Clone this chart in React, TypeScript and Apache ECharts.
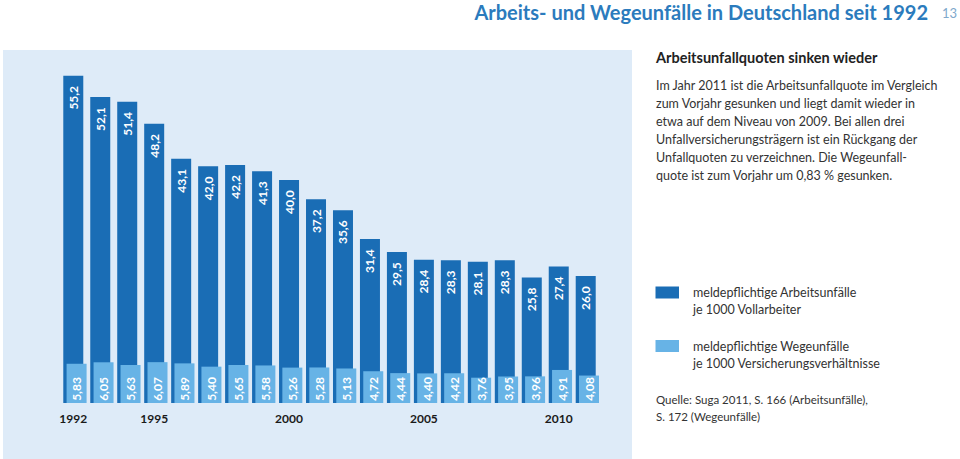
import React, { useEffect, useRef } from "react";
import * as echarts from "echarts";

const years = ["1992","1993","1994","1995","1996","1997","1998","1999","2000","2001","2002","2003","2004","2005","2006","2007","2008","2009","2010","2011"];
const arbeitsunfaelle = [55.2,52.1,51.4,48.2,43.1,42.0,42.2,41.3,40.0,37.2,35.6,31.4,29.5,28.4,28.3,28.1,28.3,25.8,27.4,26.0];
const wegeunfaelle = [5.83,6.05,5.63,6.07,5.89,5.40,5.65,5.58,5.26,5.28,5.13,4.72,4.44,4.40,4.42,3.76,3.95,3.96,4.91,4.08];
const shownYears = ["1992","1995","2000","2005","2010"];

const titleText = "Arbeits- und Wegeunfälle in Deutschland seit 1992";
const pageNumber = "13";
const subTitle = "Arbeitsunfallquoten sinken wieder";
const paragraph = [
  "Im Jahr 2011 ist die Arbeitsunfallquote im Vergleich",
  "zum Vorjahr gesunken und liegt damit wieder in",
  "etwa auf dem Niveau von 2009. Bei allen drei",
  "Unfallversicherungsträgern ist ein Rückgang der",
  "Unfallquoten zu verzeichnen. Die Wegeunfall-",
  "quote ist zum Vorjahr um 0,83 % gesunken.",
];
const legend1 = ["meldepflichtige Arbeitsunfälle", "je 1000 Vollarbeiter"];
const legend2 = ["meldepflichtige Wegeunfälle", "je 1000 Versicherungsverhältnisse"];
const sourceLines = ["Quelle: Suga 2011, S. 166 (Arbeitsunfälle),", "S. 172 (Wegeunfälle)"];

const DARK = "#1a6db5";
const LIGHT = "#67b3e6";
const PANEL = "#deebf8";
const TEXT_FONT = "Lato, 'Open Sans', sans-serif";
const NUM_FONT = "Lato, 'Open Sans', sans-serif";

const fmt = (v: number, d: number) => v.toFixed(d).replace(".", ",");

export default function App() {
  const ref = useRef<HTMLDivElement>(null);
  useEffect(() => {
    if (!ref.current) return;
    const chart = echarts.init(ref.current, null, { renderer: "svg" });
    const gridTop = 60;
    const gridHeight = 343;
    const gridLeft = 59.8;
    const gridWidth = 539.4;

    const textLines: any[] = [];
    paragraph.forEach((t, i) => {
      textLines.push({ type: "text", x: 656, y: 85 + i * 18, style: { text: t, fill: "#333", font: `12.5px ${TEXT_FONT}`, verticalAlign: "middle" } });
    });
    legend1.forEach((t, i) => {
      textLines.push({ type: "text", x: 693, y: 292 + i * 17.6, style: { text: t, fill: "#333", font: `12.5px ${TEXT_FONT}`, verticalAlign: "middle" } });
    });
    legend2.forEach((t, i) => {
      textLines.push({ type: "text", x: 693, y: 346 + i * 17.4, style: { text: t, fill: "#333", font: `12.5px ${TEXT_FONT}`, verticalAlign: "middle" } });
    });
    sourceLines.forEach((t, i) => {
      textLines.push({ type: "text", x: 656, y: 399.5 + i * 17.4, style: { text: t, fill: "#333", font: `11.5px ${TEXT_FONT}`, verticalAlign: "middle" } });
    });

    chart.setOption({
      animation: false,
      backgroundColor: "#ffffff",
      graphic: [
        { type: "rect", z: -10, shape: { x: 3, y: 50, width: 629, height: 409 }, style: { fill: PANEL } },
        { type: "text", x: 928, y: 12, style: { text: titleText, fill: "#2b7bbd", font: `bold 20px ${TEXT_FONT}`, align: "right", verticalAlign: "middle" } },
        { type: "text", x: 942, y: 13, style: { text: pageNumber, fill: "#7fa9cc", font: `13px ${TEXT_FONT}`, verticalAlign: "middle" } },
        { type: "text", x: 656, y: 57, style: { text: subTitle, fill: "#222", font: `bold 14.5px ${TEXT_FONT}`, verticalAlign: "middle" } },
        { type: "rect", shape: { x: 655.5, y: 286.5, width: 23.5, height: 12 }, style: { fill: DARK } },
        { type: "rect", shape: { x: 655.5, y: 340, width: 23.5, height: 12 }, style: { fill: LIGHT } },
        ...textLines,
      ],
      grid: [
        { left: gridLeft, top: gridTop, width: gridWidth, height: gridHeight },
        { left: gridLeft + 3.3, top: gridTop, width: gridWidth, height: gridHeight },
      ],
      xAxis: [
        {
          type: "category", gridIndex: 0, data: years,
          axisLine: { show: false }, axisTick: { show: false },
          axisLabel: {
            interval: (idx: number, val: string) => shownYears.includes(val),
            color: "#1a1a1a", fontWeight: "bold", fontSize: 12, fontFamily: NUM_FONT, margin: 9,
          },
        },
        {
          type: "category", gridIndex: 1, data: years,
          axisLine: { show: false }, axisTick: { show: false }, axisLabel: { show: false },
        },
      ],
      yAxis: [
        { type: "value", gridIndex: 0, min: 7.5, max: 7.5 + gridHeight / 6.86, show: false, splitLine: { show: false } },
        { type: "value", gridIndex: 1, min: 0, max: gridHeight / 6.73, show: false, splitLine: { show: false } },
      ],
      series: [
        {
          type: "bar", xAxisIndex: 0, yAxisIndex: 0, data: arbeitsunfaelle, barWidth: 20, z: 2,
          itemStyle: { color: DARK },
          label: {
            show: true, position: "insideTop", rotate: 90, align: "center", verticalAlign: "middle", distance: 22,
            color: "#ffffff", fontSize: 12, fontWeight: "bold", fontFamily: NUM_FONT,
            formatter: (p: any) => fmt(p.value, 1),
          },
        },
        {
          type: "bar", xAxisIndex: 1, yAxisIndex: 1, data: wegeunfaelle, barWidth: 20, z: 3,
          itemStyle: { color: LIGHT },
          label: {
            show: true, position: "insideBottom", rotate: 90, align: "center", verticalAlign: "middle", distance: 14,
            color: "#ffffff", fontSize: 12, fontWeight: "bold", fontFamily: NUM_FONT,
            formatter: (p: any) => fmt(p.value, 2),
          },
        },
      ],
    });
    return () => chart.dispose();
  }, []);
  return <div ref={ref} style={{ position: "fixed", left: 0, top: 0, width: 960, height: 459 }} />;
}
